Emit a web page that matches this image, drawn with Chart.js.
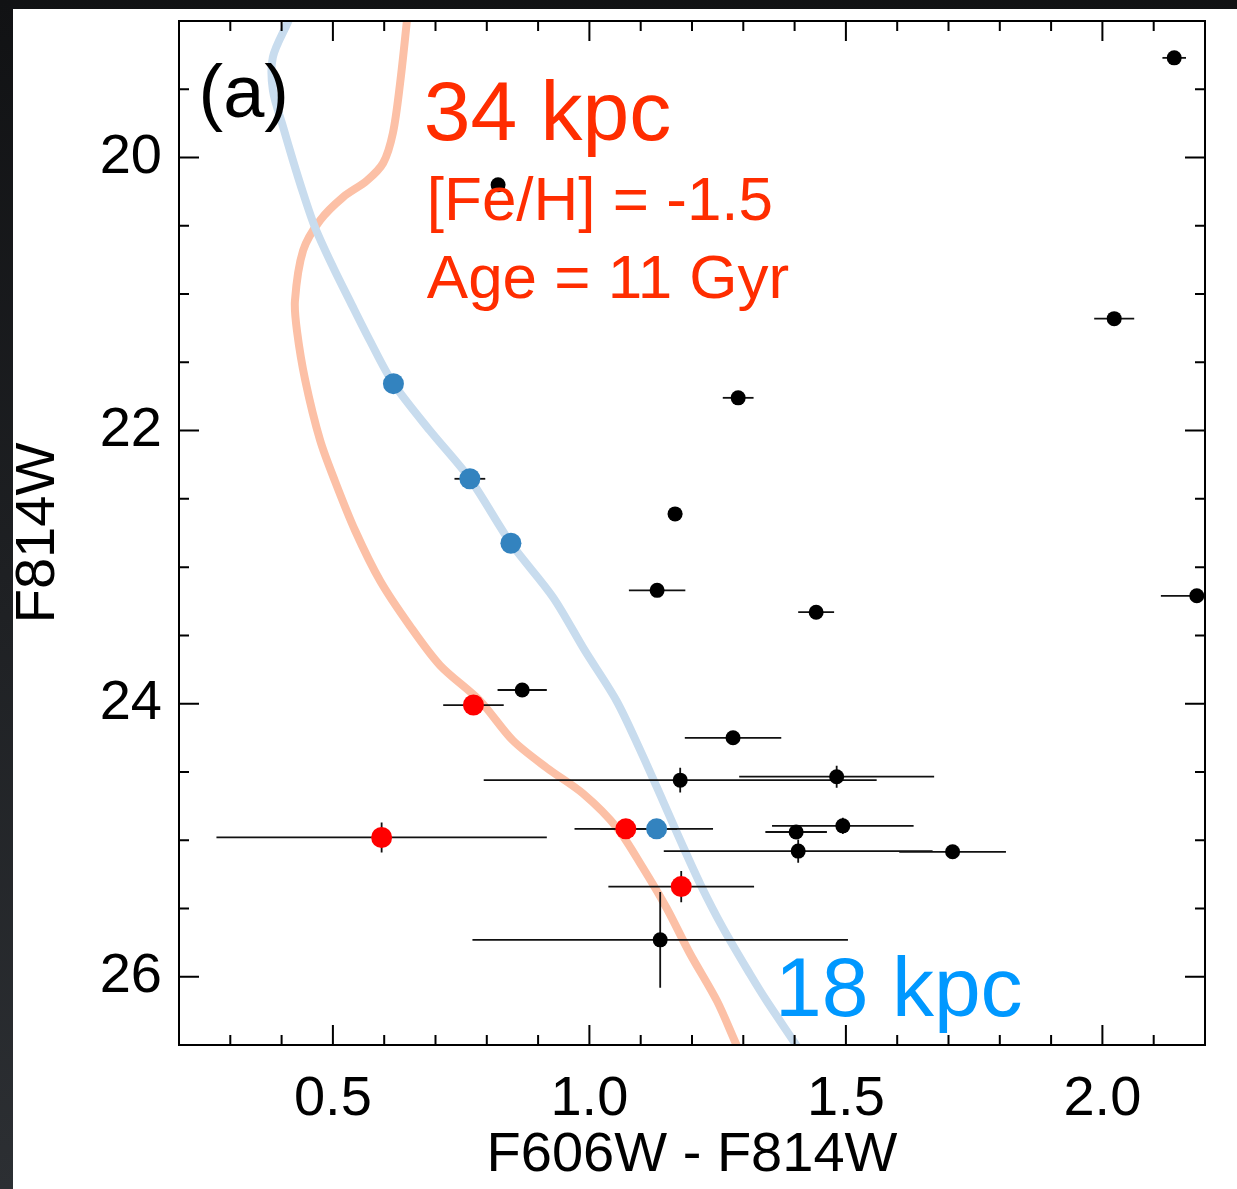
<!DOCTYPE html>
<html>
<head>
<meta charset="utf-8">
<script src="https://cdn.jsdelivr.net/npm/chart.js@4.4.1/dist/chart.umd.min.js"></script>
<style>
  html, body { margin: 0; padding: 0; }
  body {
    width: 1237px; height: 1189px; overflow: hidden;
    background: linear-gradient(#111214, #2c2f33);
    position: relative;
  }
  #wrap { position: absolute; left: 13px; top: 9px; width: 1224px; height: 1180px; background: #fff; }
</style>
</head>
<body>
<div id="wrap"><canvas id="myChart" width="1224" height="1180"></canvas></div>
<script>
// field stars (black)
const starX = [2.140, 0.822, 2.023, 1.290, 1.167, 1.132, 1.442, 2.184, 0.869, 1.280, 1.177, 1.482, 1.403, 1.494, 1.407, 1.708, 1.138];
const starY = [19.27, 20.20, 21.18, 21.76, 22.61, 23.17, 23.33, 23.21, 23.90, 24.25, 24.56, 24.535, 24.94, 24.895, 25.08, 25.085, 25.73];
const starXErr = [0.023, 0, 0.039, 0.03, 0.014, 0.055, 0.035, 0.07, 0.048, 0.094, 0.383, 0.19, 0.06, 0.138, 0.262, 0.104, 0.366];
const starYErr = [0, 0, 0, 0, 0, 0, 0, 0, 0, 0, 0.09, 0.08, 0, 0.06, 0.086, 0, 0.35];

// stars on the 18 kpc isochrone (blue)
const blueX = [0.618, 0.767, 0.847, 1.131];
const blueY = [21.656, 22.353, 22.825, 24.917];
const blueXErr = [0, 0.03, 0, 0.11];
const blueYErr = [0, 0, 0, 0];

// stars on the 34 kpc isochrone (red)
const redX = [0.774, 0.595, 1.071, 1.179];
const redY = [24.01, 24.98, 24.917, 25.34];
const redXErr = [0.059, 0.322, 0.10, 0.142];
const redYErr = [0, 0.11, 0, 0.115];

// isochrones
const iso18X = [0.425, 0.4125, 0.383, 0.383, 0.403, 0.422, 0.442, 0.465, 0.500, 0.533, 0.572, 0.617, 0.689, 0.767, 0.847, 0.929, 0.991, 1.053, 1.099, 1.143, 1.177, 1.216, 1.260, 1.313, 1.346, 1.405, 1.42];
const iso18Y = [18.9, 19.007, 19.264, 19.506, 19.777, 20.02, 20.26, 20.51, 20.80, 21.05, 21.34, 21.65, 22.0, 22.353, 22.825, 23.22, 23.61, 23.98, 24.34, 24.71, 25.00, 25.32, 25.64, 25.98, 26.18, 26.51, 26.6];
const iso34X = [0.646, 0.644, 0.631, 0.617, 0.598, 0.566, 0.520, 0.475, 0.442, 0.426, 0.430, 0.446, 0.475, 0.504, 0.543, 0.592, 0.650, 0.709, 0.787, 0.851, 0.917, 0.988, 1.054, 1.104, 1.151, 1.196, 1.249, 1.288, 1.30];
const iso34Y = [18.9, 19.007, 19.455, 19.82, 20.04, 20.17, 20.29, 20.46, 20.68, 21.05, 21.27, 21.63, 22.07, 22.37, 22.73, 23.10, 23.43, 23.72, 23.98, 24.27, 24.47, 24.66, 24.91, 25.20, 25.50, 25.83, 26.18, 26.51, 26.6];

// axes
const xMajor = [0.5, 1.0, 1.5, 2.0];
const xMinor = [0.3, 0.4, 0.6, 0.7, 0.8, 0.9, 1.1, 1.2, 1.3, 1.4, 1.6, 1.7, 1.8, 1.9, 2.1];
const yMajor = [20, 22, 24, 26];
const yMinor = [19.5, 20.5, 21, 21.5, 22.5, 23, 23.5, 24.5, 25, 25.5, 26];

const FONT = "'Liberation Sans', Arial, Helvetica, sans-serif";

// text labels: [text, x value, y value (baseline), size, colour]
const notes = [
    ['(a)', 0.238, 19.70, 74, '#000'],
    ['34 kpc', 0.677, 19.87, 84, '#ff2d00'],
    ['[Fe/H] = -1.5', 0.683, 20.46, 62, '#ff2d00'],
    ['Age = 11 Gyr', 0.683, 21.03, 62, '#ff2d00'],
    ['18 kpc', 1.362, 26.29, 84, '#0098ff'],
];

const pts = (xs, ys) => xs.map((x, i) => ({x: x, y: ys[i]}));

const errBars = [
    [starX, starY, starXErr, starYErr],
    [blueX, blueY, blueXErr, blueYErr],
    [redX, redY, redXErr, redYErr],
];

const cmdPlugin = {
    id: 'cmd',
    afterDatasetDraw(chart, args) {
        // error bars go between the isochrones and the points
        if (args.index !== 3) return;
        const ctx = chart.ctx, a = chart.chartArea;
        const xs = chart.scales.x, ys = chart.scales.y;
        ctx.save();
        ctx.beginPath();
        ctx.rect(a.left, a.top, a.right - a.left, a.bottom - a.top);
        ctx.clip();
        ctx.strokeStyle = '#111';
        ctx.lineWidth = 1.8;
        errBars.forEach(([X, Y, XE, YE]) => {
            X.forEach((x, i) => {
                const px = xs.getPixelForValue(x), py = ys.getPixelForValue(Y[i]);
                ctx.beginPath();
                if (XE[i] > 0) {
                    ctx.moveTo(xs.getPixelForValue(x - XE[i]), py);
                    ctx.lineTo(xs.getPixelForValue(x + XE[i]), py);
                }
                if (YE[i] > 0) {
                    ctx.moveTo(px, ys.getPixelForValue(Y[i] - YE[i]));
                    ctx.lineTo(px, ys.getPixelForValue(Y[i] + YE[i]));
                }
                ctx.stroke();
            });
        });
        ctx.restore();
    },
    afterDraw(chart) {
        const ctx = chart.ctx, a = chart.chartArea;
        const xs = chart.scales.x, ys = chart.scales.y;
        ctx.save();
        ctx.strokeStyle = '#000';
        ctx.lineWidth = 2;
        ctx.strokeRect(a.left, a.top, a.right - a.left, a.bottom - a.top);
        ctx.beginPath();
        const xt = (vals, len) => vals.forEach(v => {
            const p = xs.getPixelForValue(v);
            ctx.moveTo(p, a.bottom); ctx.lineTo(p, a.bottom - len);
            ctx.moveTo(p, a.top); ctx.lineTo(p, a.top + len);
        });
        const yt = (vals, len) => vals.forEach(v => {
            const p = ys.getPixelForValue(v);
            ctx.moveTo(a.left, p); ctx.lineTo(a.left + len, p);
            ctx.moveTo(a.right, p); ctx.lineTo(a.right - len, p);
        });
        xt(xMajor, 20); xt(xMinor, 10);
        yt(yMajor, 20); yt(yMinor, 10);
        ctx.stroke();

        ctx.textBaseline = 'alphabetic';
        ctx.textAlign = 'left';
        notes.forEach(([t, x, y, size, col]) => {
            ctx.font = size + 'px ' + FONT;
            ctx.fillStyle = col;
            ctx.fillText(t, xs.getPixelForValue(x), ys.getPixelForValue(y));
        });
        ctx.restore();
    }
};

window.onload = () => {
    const canvas = document.getElementById('myChart');
    const ctx = canvas.getContext('2d');

    const myChart = new Chart(ctx, {
        type: 'scatter',
        data: {
            datasets: [
                {
                    data: pts(starX, starY),
                    backgroundColor: '#000',
                    borderWidth: 0,
                    pointRadius: 7.5,
                    clip: false
                },
                {
                    data: pts(blueX, blueY),
                    backgroundColor: '#3383bf',
                    borderWidth: 0,
                    pointRadius: 10.5,
                    clip: false
                },
                {
                    data: pts(redX, redY),
                    backgroundColor: '#ff0000',
                    borderWidth: 0,
                    pointRadius: 10.5,
                    clip: false
                },
                {
                    data: pts(iso18X, iso18Y),
                    showLine: true,
                    borderColor: '#c8dcee',
                    borderWidth: 8,
                    pointRadius: 0,
                    tension: 0.3,
                    clip: 0
                },
                {
                    data: pts(iso34X, iso34Y),
                    showLine: true,
                    borderColor: '#fcc0a6',
                    borderWidth: 8,
                    pointRadius: 0,
                    tension: 0.3,
                    clip: 0
                },
            ]
        },
        options: {
            responsive: false,
            animation: false,
            layout: {
                padding: {left: 0, top: 12, right: 32, bottom: 0}
            },
            plugins: {
                legend: { display: false },
                tooltip: { enabled: false }
            },
            scales: {
                x: {
                    type: 'linear',
                    min: 0.2,
                    max: 2.2,
                    grid: { display: false, drawTicks: false },
                    border: { display: false },
                    afterBuildTicks: (s) => { s.ticks = xMajor.map(v => ({value: v})); },
                    afterFit: (s) => { s.height = 144; s.paddingLeft = 0; s.paddingRight = 0; },
                    ticks: {
                        padding: 21,
                        color: '#000',
                        maxRotation: 0,
                        font: { family: FONT, size: 56 },
                        callback: (v) => Number(v).toFixed(1)
                    },
                    title: {
                        display: true,
                        text: 'F606W - F814W',
                        color: '#000',
                        padding: 0,
                        font: { family: FONT, size: 56 }
                    }
                },
                y: {
                    type: 'linear',
                    reverse: true,
                    min: 19,
                    max: 26.5,
                    grid: { display: false, drawTicks: false },
                    border: { display: false },
                    afterBuildTicks: (s) => { s.ticks = yMajor.map(v => ({value: v})); },
                    afterFit: (s) => { s.width = 166; s.paddingTop = 0; s.paddingBottom = 0; },
                    ticks: {
                        padding: 17,
                        color: '#000',
                        font: { family: FONT, size: 56 },
                        callback: (v) => String(v)
                    },
                    title: {
                        display: true,
                        text: 'F814W',
                        color: '#000',
                        padding: 0,
                        font: { family: FONT, size: 56, lineHeight: 0.9 }
                    }
                }
            }
        },
        plugins: [cmdPlugin]
    });
};
</script>
</body>
</html>
